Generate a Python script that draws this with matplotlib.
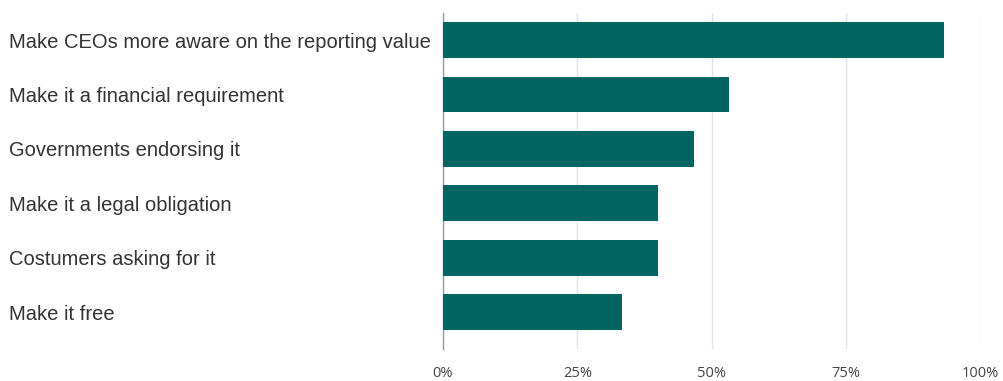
import matplotlib
matplotlib.use("Agg")
import matplotlib.pyplot as plt
from matplotlib.ticker import PercentFormatter

# ====== DATA ======
categorias = [
    "Make CEOs more aware on the reporting value",
    "Make it a financial requirement",
    "Governments endorsing it",
    "Make it a legal obligation",
    "Costumers asking for it",
    "Make it free",
]
respuestas = [14, 8, 7, 6, 6, 5]   # out of 15 respondents
total = 15
porcentajes = [r / total for r in respuestas]
ticks_x = [0, 0.25, 0.5, 0.75, 1.0]

COLOR_BARRA = '#016662'

fig = plt.figure(figsize=(10.04, 3.81), dpi=100)
ax = fig.add_axes([443 / 1004, 1 - 349 / 381, (980 - 443) / 1004, (349 - 13) / 381])

pos = range(len(categorias))
ax.barh(pos, porcentajes, height=0.66, color=COLOR_BARRA, zorder=3)

ax.set_xlim(0, 1.0)
ax.set_ylim(5.68, -0.5)
ax.set_xticks(ticks_x)
ax.xaxis.set_major_formatter(PercentFormatter(1.0, decimals=0))
ax.grid(axis='x', color='#e3e3e3', linewidth=1, zorder=0)

for s in ['top', 'right', 'bottom']:
    ax.spines[s].set_visible(False)
ax.spines['left'].set_color('#9a9a9a')
ax.spines['left'].set_linewidth(1)

ax.set_yticks(list(pos))
ax.set_yticklabels(categorias, fontsize=14.5, family='Liberation Sans', color='#333333', ha='left')
ax.tick_params(axis='y', length=0, pad=(443 - 9) * 0.72)
ax.tick_params(axis='x', length=0, pad=12, labelsize=10.5, labelcolor='#444444')
for t in ax.get_xticklabels():
    t.set_family('Open Sans')

fig.savefig('out.png', dpi=100)
